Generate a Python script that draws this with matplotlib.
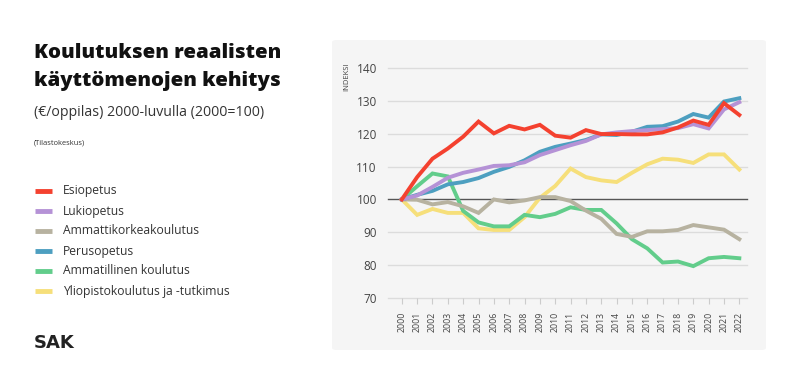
import matplotlib
matplotlib.use("Agg")
import matplotlib.pyplot as plt
from matplotlib.patches import FancyBboxPatch
from matplotlib.lines import Line2D

years = list(range(2000, 2023))
year_labels = [str(y) for y in years]

esiopetus = [100, 106.8, 112.4, 115.5, 119.1, 123.7, 120.1, 122.4, 121.3, 122.7, 119.4, 118.8,
             121.1, 119.9, 119.9, 119.8, 119.8, 120.4, 121.9, 124.0, 122.7, 129.3, 125.7]
lukiopetus = [100, 101.2, 103.8, 106.6, 108.1, 109.1, 110.2, 110.4, 111.3, 113.5, 115.0, 116.5,
              117.8, 119.8, 120.4, 120.8, 121.1, 121.4, 121.7, 122.9, 121.6, 127.4, 129.6]
amk = [100, 99.9, 98.5, 99.2, 97.9, 95.9, 100.0, 99.1, 99.7, 100.7, 100.7, 99.5,
       96.6, 94.1, 89.5, 88.6, 90.3, 90.3, 90.7, 92.2, 91.5, 90.8, 87.9]
perusopetus = [100, 101.4, 102.6, 104.6, 105.3, 106.5, 108.4, 109.9, 111.9, 114.5, 116.0, 117.0,
               118.1, 119.8, 119.6, 120.6, 122.1, 122.3, 123.7, 126.0, 124.9, 129.8, 130.8]
ammatillinen = [100, 104.0, 107.9, 107.0, 96.5, 93.0, 91.8, 91.8, 95.3, 94.6, 95.6, 97.6,
                96.8, 96.8, 92.7, 87.9, 85.1, 80.8, 81.1, 79.7, 82.1, 82.5, 82.1]
yliopisto = [100, 95.3, 97.1, 95.9, 95.9, 91.2, 90.7, 90.7, 94.6, 100.5, 104.1, 109.4,
             106.8, 105.8, 105.3, 108.1, 110.7, 112.4, 112.1, 111.1, 113.7, 113.7, 109.1]

series_names = ["Esiopetus", "Lukiopetus", "Ammattikorkeakoulutus", "Perusopetus",
                "Ammatillinen koulutus", "Yliopistokoulutus ja -tutkimus"]
series_values = [esiopetus, lukiopetus, amk, perusopetus, ammatillinen, yliopisto]
colors = ["#f4412f", "#b592d6", "#b7b2a0", "#4d9fc0", "#62cd8b", "#f6df7a"]

yticks = [70, 80, 90, 100, 110, 120, 130, 140]

plt.rcParams['font.family'] = ['Open Sans', 'DejaVu Sans']

fig = plt.figure(figsize=(8, 3.83), dpi=100)
fig.patch.set_facecolor("white")

W, H = 800, 383
def fx(px): return px / W
def fy(py): return 1 - py / H

# panel background
panel = FancyBboxPatch((fx(332), fy(350)), fx(766) - fx(332), fy(40) - fy(350),
                       boxstyle="round,pad=0,rounding_size=0.006",
                       transform=fig.transFigure, facecolor="#f5f5f5", edgecolor="none", zorder=-10)
fig.patches.append(panel)

ax = fig.add_axes([fx(388), fy(298), fx(747) - fx(388), fy(68) - fy(298)])
ax.set_facecolor("none")
ax.set_zorder(5)
ax.set_xlim(1999.1, 2022.5)
ax.set_ylim(70, 140)

for yv in yticks:
    ax.axhline(yv, color="#555555" if yv == 100 else "#dcdcdc", lw=1.0,
               zorder=1 if yv != 100 else 2, clip_on=False)

draw_order = [5, 4, 2, 3, 1, 0]
for i in draw_order:
    ax.plot(years, series_values[i], color=colors[i], lw=2.8, solid_joinstyle="miter",
            zorder=3 + draw_order.index(i), clip_on=False)

for s in ax.spines.values():
    s.set_visible(False)
ax.set_yticks(yticks)
ax.set_yticklabels([str(v) for v in yticks], fontsize=8.5, color="#444444")
ax.tick_params(axis="y", length=0, pad=8)
ax.set_xticks(years)
ax.set_xticklabels(year_labels, rotation=90, fontsize=6.3, color="#444444")
ax.tick_params(axis="x", length=4, color="#cccccc", pad=6, width=0.8)

fig.text(fx(347), fy(62), "INDEKSI", rotation=90, fontsize=5.5, color="#444444",
         ha="center", va="top")

# titles
fig.text(fx(34), fy(58), "Koulutuksen reaalisten", fontsize=14.7, fontweight="heavy",
         color="#111111", ha="left", va="baseline")
fig.text(fx(34), fy(86), "käyttömenojen kehitys", fontsize=14.7, fontweight="heavy",
         color="#111111", ha="left", va="baseline")
fig.text(fx(34), fy(112), "(€/oppilas) 2000-luvulla (2000=100)", fontsize=10.2,
         color="#333333", ha="left", va="center")
fig.text(fx(34), fy(143), "(Tilastokeskus)", fontsize=5.4, color="#333333", ha="left", va="center")

# legend
for k, (name, c) in enumerate(zip(series_names, colors)):
    yy = fy(191 + 20 * k)
    fig.add_artist(Line2D([fx(35), fx(52)], [yy, yy], color=c, lw=3.5,
                          solid_capstyle="butt", transform=fig.transFigure))
    fig.text(fx(63), yy, name, fontsize=8.7, color="#333333", ha="left", va="center")

fig.text(fx(34), fy(343), "SAK", fontsize=13, fontweight="bold", color="#222222",
         ha="left", va="center", family=["DejaVu Sans"])

fig.savefig("out.png", dpi=100, facecolor="white")
